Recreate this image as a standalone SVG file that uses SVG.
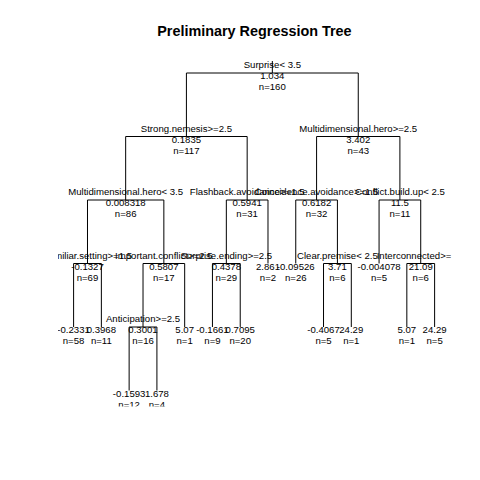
<svg xmlns="http://www.w3.org/2000/svg" width="480" height="480" viewBox="0 0 480 480">
<style>
.t{font-family:"Liberation Sans",Arial,Helvetica,sans-serif;font-size:9.6px;text-anchor:middle;fill:#000}
.s{text-anchor:start}
.title{font-family:"Liberation Sans",Arial,Helvetica,sans-serif;font-size:14.4px;font-weight:bold;text-anchor:middle;fill:#000}
.br{fill:none;stroke:#000;stroke-width:1}
</style>
<defs>
<clipPath id="plot"><rect x="58" y="59" width="393.5" height="347.6"/></clipPath>
</defs>
<rect x="0" y="0" width="480" height="480" fill="#fff"/>
<text class="title" x="254.4" y="35.5">Preliminary Regression Tree</text>
<g clip-path="url(#plot)">
<g id="connectors" class="br">
<path d="M272.33 61V73"/>
<path d="M186.41 136.5V73H358.25V136.5"/>
<path d="M125.67 200V136.5H247.16V200"/>
<path d="M316.59 200V136.5H399.9V200"/>
<path d="M87.49 263.5V200H163.85V263.5"/>
<path d="M226.34 263.5V200H267.99V263.5"/>
<path d="M295.76 263.5V200H337.42V263.5"/>
<path d="M379.07 263.5V200H420.73V263.5"/>
<path d="M73.6 327V263.5H101.37V327"/>
<path d="M143.03 327V263.5H184.68V327"/>
<path d="M212.45 327V263.5H240.22V327"/>
<path d="M323.53 327V263.5H351.3V327"/>
<path d="M406.84 327V263.5H434.61V327"/>
<path d="M129.14 390.5V327H156.91V390.5"/>
</g>
<g id="node-root"><text class="t" x="272.33" y="68">Surprise&lt; 3.5</text><text class="t" x="272.33" y="79">1.034</text><text class="t" x="272.33" y="90">n=160</text></g>
<g id="node-strong-nemesis"><text class="t" x="186.41" y="131.5">Strong.nemesis&gt;=2.5</text><text class="t" x="186.41" y="142.5">0.1835</text><text class="t" x="186.41" y="153.5">n=117</text></g>
<g id="node-multidim-ge"><text class="t" x="358.25" y="131.5">Multidimensional.hero&gt;=2.5</text><text class="t" x="358.25" y="142.5">3.402</text><text class="t" x="358.25" y="153.5">n=43</text></g>
<g id="node-multidim-lt"><text class="t" x="125.67" y="195">Multidimensional.hero&lt; 3.5</text><text class="t" x="125.67" y="206">0.008318</text><text class="t" x="125.67" y="217">n=86</text></g>
<g id="node-flashback"><text class="t" x="247.16" y="195">Flashback.avoidance&gt;=1.5</text><text class="t" x="247.16" y="206">0.5941</text><text class="t" x="247.16" y="217">n=31</text></g>
<g id="node-coincidence"><text class="t" x="316.59" y="195">Coincidence.avoidance&gt;=1.5</text><text class="t" x="316.59" y="206">0.6182</text><text class="t" x="316.59" y="217">n=32</text></g>
<g id="node-conflict"><text class="t" x="399.9" y="195">Conflict.build.up&lt; 2.5</text><text class="t" x="399.9" y="206">11.5</text><text class="t" x="399.9" y="217">n=11</text></g>
<g id="node-familiar"><text class="t" x="87.49" y="258.5">Familiar.setting&gt;=1.5</text><text class="t" x="87.49" y="269.5">-0.1327</text><text class="t" x="87.49" y="280.5">n=69</text></g>
<g id="node-important"><text class="t" x="163.85" y="258.5">Important.conflict&gt;=2.5</text><text class="t" x="163.85" y="269.5">0.5807</text><text class="t" x="163.85" y="280.5">n=17</text></g>
<g id="node-surprise-ending"><text class="t" x="226.34" y="258.5">Surprise.ending&gt;=2.5</text><text class="t" x="226.34" y="269.5">0.4378</text><text class="t" x="226.34" y="280.5">n=29</text></g>
<g id="leaf-8"><text class="t" x="267.99" y="269.5">2.861</text><text class="t" x="267.99" y="280.5">n=2</text></g>
<g id="leaf-9"><text class="t" x="295.76" y="269.5">-0.09526</text><text class="t" x="295.76" y="280.5">n=26</text></g>
<g id="node-clear-premise"><text class="t" x="337.42" y="258.5">Clear.premise&lt; 2.5</text><text class="t" x="337.42" y="269.5">3.71</text><text class="t" x="337.42" y="280.5">n=6</text></g>
<g id="leaf-12"><text class="t" x="379.07" y="269.5">-0.004078</text><text class="t" x="379.07" y="280.5">n=5</text></g>
<g id="node-interconnected"><text class="t s" x="376.7" y="258.5">Interconnected&gt;=</text><text class="t" x="420.73" y="269.5">21.09</text><text class="t" x="420.73" y="280.5">n=6</text></g>
<g id="leaf-1"><text class="t" x="73.6" y="333">-0.2331</text><text class="t" x="73.6" y="344">n=58</text></g>
<g id="leaf-2"><text class="t" x="101.37" y="333">0.3968</text><text class="t" x="101.37" y="344">n=11</text></g>
<g id="node-anticipation"><text class="t" x="143.03" y="322">Anticipation&gt;=2.5</text><text class="t" x="143.03" y="333">0.3001</text><text class="t" x="143.03" y="344">n=16</text></g>
<g id="leaf-5"><text class="t" x="184.68" y="333">5.07</text><text class="t" x="184.68" y="344">n=1</text></g>
<g id="leaf-6"><text class="t" x="212.45" y="333">-0.1661</text><text class="t" x="212.45" y="344">n=9</text></g>
<g id="leaf-7"><text class="t" x="240.22" y="333">0.7095</text><text class="t" x="240.22" y="344">n=20</text></g>
<g id="leaf-10"><text class="t" x="323.53" y="333">-0.4067</text><text class="t" x="323.53" y="344">n=5</text></g>
<g id="leaf-11"><text class="t" x="351.3" y="333">24.29</text><text class="t" x="351.3" y="344">n=1</text></g>
<g id="leaf-13"><text class="t" x="406.84" y="333">5.07</text><text class="t" x="406.84" y="344">n=1</text></g>
<g id="leaf-14"><text class="t" x="434.61" y="333">24.29</text><text class="t" x="434.61" y="344">n=5</text></g>
<g id="leaf-3"><text class="t" x="129.14" y="396.5">-0.1593</text><text class="t" x="129.14" y="407.5">n=12</text></g>
<g id="leaf-4"><text class="t" x="156.91" y="396.5">1.678</text><text class="t" x="156.91" y="407.5">n=4</text></g>
</g>
</svg>
